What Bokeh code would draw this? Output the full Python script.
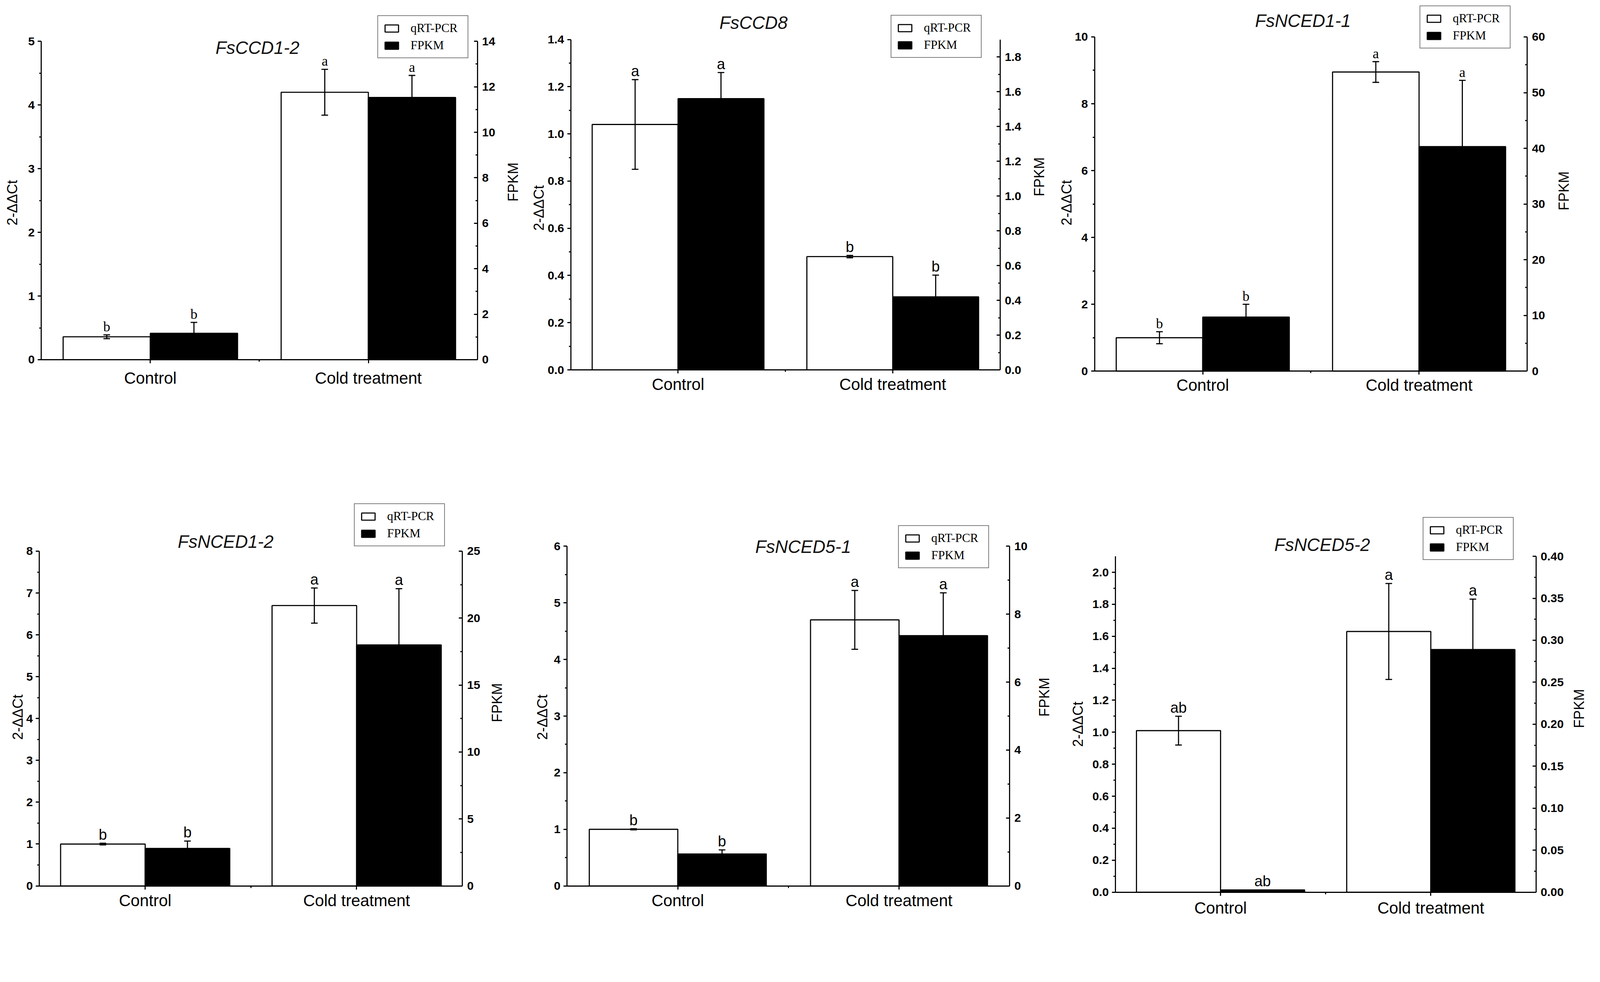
import math
from bokeh.plotting import figure
from bokeh.models import (Range1d, LinearAxis, FixedTicker, Whisker, TeeHead, Legend,
                          LegendItem, Label, ColumnDataSource, PrintfTickFormatter, Grid)
from bokeh.transform import dodge
from bokeh.layouts import column, row
from bokeh.embed import file_html
from bokeh.resources import INLINE
from bokeh.core.properties import value

# ---------------- data ----------------
groups = ["Control", "Cold treatment"]
genes = ["FsCCD1-2", "FsCCD8", "FsNCED1-1", "FsNCED1-2", "FsNCED5-1", "FsNCED5-2"]

ccd12_qrt = [0.36, 4.20]
ccd12_qrt_err = [0.03, 0.36]
ccd12_fpkm = [1.16, 11.53]
ccd12_fpkm_err = [0.48, 0.97]
ccd12_let_qrt = ["b", "a"]
ccd12_let_fpkm = ["b", "a"]
ccd12_left_ticks = [0, 1, 2, 3, 4, 5]
ccd12_right_ticks = [0, 2, 4, 6, 8, 10, 12, 14]

ccd8_qrt = [1.04, 0.48]
ccd8_qrt_err = [0.19, 0.005]
ccd8_fpkm = [1.56, 0.42]
ccd8_fpkm_err = [0.15, 0.125]
ccd8_let_qrt = ["a", "b"]
ccd8_let_fpkm = ["a", "b"]
ccd8_left_ticks = [0.0, 0.2, 0.4, 0.6, 0.8, 1.0, 1.2, 1.4]
ccd8_right_ticks = [0.0, 0.2, 0.4, 0.6, 0.8, 1.0, 1.2, 1.4, 1.6, 1.8]

nced11_qrt = [1.0, 8.95]
nced11_qrt_err = [0.18, 0.31]
nced11_fpkm = [9.7, 40.3]
nced11_fpkm_err = [2.3, 11.9]
nced11_let_qrt = ["b", "a"]
nced11_let_fpkm = ["b", "a"]
nced11_left_ticks = [0, 2, 4, 6, 8, 10]
nced11_right_ticks = [0, 10, 20, 30, 40, 50, 60]

nced12_qrt = [1.0, 6.70]
nced12_qrt_err = [0.02, 0.42]
nced12_fpkm = [2.8, 18.0]
nced12_fpkm_err = [0.55, 4.2]
nced12_let_qrt = ["b", "a"]
nced12_let_fpkm = ["b", "a"]
nced12_left_ticks = [0, 1, 2, 3, 4, 5, 6, 7, 8]
nced12_right_ticks = [0, 5, 10, 15, 20, 25]

nced51_qrt = [1.0, 4.70]
nced51_qrt_err = [0.01, 0.52]
nced51_fpkm = [0.94, 7.37]
nced51_fpkm_err = [0.12, 1.26]
nced51_let_qrt = ["b", "a"]
nced51_let_fpkm = ["b", "a"]
nced51_left_ticks = [0, 1, 2, 3, 4, 5, 6]
nced51_right_ticks = [0, 2, 4, 6, 8, 10]

nced52_qrt = [1.01, 1.63]
nced52_qrt_err = [0.09, 0.30]
nced52_fpkm = [0.0027, 0.289]
nced52_fpkm_err = [0.0, 0.06]
nced52_let_qrt = ["ab", "a"]
nced52_let_fpkm = ["ab", "a"]
nced52_left_ticks = [0.0, 0.2, 0.4, 0.6, 0.8, 1.0, 1.2, 1.4, 1.6, 1.8, 2.0]
nced52_right_ticks = [0.00, 0.05, 0.10, 0.15, 0.20, 0.25, 0.30, 0.35, 0.40]

panels_data = [
    (ccd12_qrt, ccd12_qrt_err, ccd12_fpkm, ccd12_fpkm_err, ccd12_let_qrt, ccd12_let_fpkm,
     ccd12_left_ticks, 5.0, ccd12_right_ticks, 14.0, "%d", "%d"),
    (ccd8_qrt, ccd8_qrt_err, ccd8_fpkm, ccd8_fpkm_err, ccd8_let_qrt, ccd8_let_fpkm,
     ccd8_left_ticks, 1.4, ccd8_right_ticks, 1.9, "%.1f", "%.1f"),
    (nced11_qrt, nced11_qrt_err, nced11_fpkm, nced11_fpkm_err, nced11_let_qrt, nced11_let_fpkm,
     nced11_left_ticks, 10.0, nced11_right_ticks, 60.0, "%d", "%d"),
    (nced12_qrt, nced12_qrt_err, nced12_fpkm, nced12_fpkm_err, nced12_let_qrt, nced12_let_fpkm,
     nced12_left_ticks, 8.0, nced12_right_ticks, 25.0, "%d", "%d"),
    (nced51_qrt, nced51_qrt_err, nced51_fpkm, nced51_fpkm_err, nced51_let_qrt, nced51_let_fpkm,
     nced51_left_ticks, 6.0, nced51_right_ticks, 10.0, "%d", "%d"),
    (nced52_qrt, nced52_qrt_err, nced52_fpkm, nced52_fpkm_err, nced52_let_qrt, nced52_let_fpkm,
     nced52_left_ticks, 2.1, nced52_right_ticks, 0.40, "%.1f", "%.2f"),
]

# ---------------- layout / style (target picture pixels, not data) ----------------
S = 4096.0 / 4319.0          # css px per picture px
M = 8.0 / S                  # body margin in picture px
# axes box (L, R, top of y-axis T, bottom B), legend box (left, bottom), title centre,
# category-label distance below axis, left / right axis-label centres, letter font
geo = [
    dict(L=119.5, R=1296.5, T=119.4, B=978.5, leg=(1027, 160), tit=(703, 137), dx=50.5,
         ll=(41, 555), rl=(1393, 499), lf="Liberation Serif", lfs=38),
    dict(L=1548.5, R=2707.5, T=114.5, B=1006.0, leg=(2413, 158), tit=(2042, 70), dx=39.0,
         ll=(1462, 569), rl=(2813, 485), lf="Liberation Sans", lfs=40),
    dict(L=2962.6, R=4130.5, T=107.5, B=1009.4, leg=(3840, 133.5), tit=(3525, 64.6), dx=37.6,
         ll=(2887.5, 555), rl=(4229, 523), lf="Liberation Serif", lfs=38),
    dict(L=114.4, R=1256.0, T=1495.2, B=2398.4, leg=(963.7, 1476.6), tit=(617, 1470.4), dx=40.0,
         ll=(55.4, 1943), rl=(1350, 1904), lf="Liberation Sans", lfs=40),
    dict(L=1538.9, R=2733.3, T=1482.0, B=2398.4, leg=(2432.6, 1536), tit=(2176, 1484), dx=40.0,
         ll=(1471.8, 1943), rl=(2827, 1889), lf="Liberation Sans", lfs=40),
    dict(L=3018.9, R=4154.0, T=1509.0, B=2415.4, leg=(3849, 1513), tit=(3577, 1478), dx=42.6,
         ll=(2917.5, 1962), rl=(4271, 1920), lf="Liberation Sans", lfs=40),
]
row_splits = [[M, 1430.0, 2860.0, 4309.0], [M, 1420.0, 2870.0, 4309.0]]
row_edges = [M, 1258.0, 2500.0]

SANS = "Liberation Sans"
FS_TICK = 32
FS_AXLAB = 38
FS_CAT = 44
FS_TITLE = 48
FS_LEG = 33
TICK_OUT = 9
LW = 3
LEG_DROP = 6


def c(v):
    return int(round(v * S))


def fpx(v):
    return "%.1fpx" % (v * S)


def minor_of(ticks):
    return [(a + b) / 2.0 for a, b in zip(ticks[:-1], ticks[1:])]


def style_axis(ax, side):
    ax.axis_line_width = LW * S
    ax.axis_line_color = "black"
    ax.major_tick_line_width = LW * S
    ax.minor_tick_line_width = LW * S
    ax.major_tick_line_color = "black"
    ax.minor_tick_line_color = "black"
    ax.major_label_text_font = SANS
    ax.major_label_text_color = "black"
    if side == "right":
        ax.major_tick_out = 0
        ax.major_tick_in = c(TICK_OUT)
        ax.minor_tick_out = 0
        ax.minor_tick_in = c(5)
        ax.major_label_standoff = c(13)
    else:
        ax.major_tick_out = c(TICK_OUT)
        ax.major_tick_in = 0
        ax.minor_tick_out = c(5)
        ax.minor_tick_in = 0
        ax.major_label_standoff = c(8)


def make_panel(gene, d, g, fx0, fy0, wcss, hcss):
    (qrt, qrt_err, fpkm, fpkm_err, let_q, let_f, lticks, lmax, rticks, rmax, lfmt, rfmt) = d
    xc = [i + 0.5 for i in range(len(groups))]
    src = ColumnDataSource(dict(
        xc=xc,
        qrt=qrt,
        qrt_lo=[v - e for v, e in zip(qrt, qrt_err)],
        qrt_up=[v + e for v, e in zip(qrt, qrt_err)],
        fpkm=fpkm,
        fpkm_up=[v + e for v, e in zip(fpkm, fpkm_err)],
        let_q=let_q,
        let_f=let_f,
    ))
    L, R, T, B = g["L"], g["R"], g["T"], g["B"]
    fw, fh = wcss / S, hcss / S
    nx = float(len(groups))
    kx = (R - L) / nx
    ky = (B - T) / lmax
    xs, xe = -(L - fx0) / kx, nx + (fx0 + fw - R) / kx
    ys, ye = -(fy0 + fh - B) / ky, lmax + (T - fy0) / ky
    rs = rmax / lmax

    def X(px):
        return (px - L) / kx

    def Y(py):
        return (B - py) / ky

    p = figure(x_range=Range1d(xs, xe), y_range=Range1d(ys, ye),
               width=wcss, height=hcss, title=None,
               x_axis_location=None, y_axis_location=None,
               min_border_left=0, min_border_right=0, min_border_top=0, min_border_bottom=0,
               output_backend="svg", toolbar_location=None, tools="")
    p.extra_y_ranges = {"fpkm": Range1d(ys * rs, ye * rs)}
    p.outline_line_color = None
    p.background_fill_color = "white"
    p.border_fill_color = "white"
    p.renderers = [r for r in p.renderers if not isinstance(r, Grid)]
    p.center = [r for r in p.center if not isinstance(r, Grid)]

    r_q = p.vbar(x=dodge("xc", -0.2), top="qrt", width=0.4, source=src,
                 fill_color="white", line_color="black", line_width=LW * S)
    r_f = p.vbar(x=dodge("xc", 0.2), top="fpkm", width=0.4, source=src,
                 y_range_name="fpkm", fill_color="black", line_color="black", line_width=LW * S)

    head = dict(size=c(18), line_width=LW * S, line_color="black")
    p.add_layout(Whisker(source=src, base=dodge("xc", -0.2), upper="qrt_up", lower="qrt_lo",
                         line_width=LW * S, line_color="black", level="annotation",
                         upper_head=TeeHead(**head), lower_head=TeeHead(**head)))
    p.add_layout(Whisker(source=src, base=dodge("xc", 0.2), upper="fpkm_up", lower="fpkm",
                         y_range_name="fpkm", line_width=LW * S, line_color="black", level="annotation",
                         upper_head=TeeHead(**head), lower_head=None))

    p.text(x=dodge("xc", -0.2), y="qrt_up", text="let_q", source=src,
           text_align="center", text_baseline="bottom", y_offset=-1,
           text_font=value(g["lf"]), text_font_size=fpx(g["lfs"]), text_color="black")
    p.text(x=dodge("xc", 0.2), y="fpkm_up", text="let_f", source=src,
           y_range_name="fpkm", text_align="center", text_baseline="bottom", y_offset=-1,
           text_font=value(g["lf"]), text_font_size=fpx(g["lfs"]), text_color="black")

    # x axis (at y = 0)
    xa = LinearAxis(fixed_location=0, bounds=(0, nx),
                    ticker=FixedTicker(ticks=xc, minor_ticks=minor_of(xc)),
                    major_label_overrides={x: gname for x, gname in zip(xc, groups)})
    style_axis(xa, "below")
    xa.major_label_text_font_size = fpx(FS_CAT)
    xa.major_label_standoff = max(0, c(g["dx"] - TICK_OUT - 0.575 * FS_CAT))
    xa.major_label_orientation = "horizontal"
    p.add_layout(xa, "below")

    # left axis (at x = 0)
    ly = LinearAxis(fixed_location=0, bounds=(0, lmax),
                    ticker=FixedTicker(ticks=lticks, minor_ticks=minor_of(lticks)),
                    formatter=PrintfTickFormatter(format=lfmt))
    style_axis(ly, "left")
    ly.major_label_text_font_size = fpx(FS_TICK)
    ly.major_label_text_font_style = "bold"
    p.add_layout(ly, "left")

    # right axis (at x = nx)
    ry = LinearAxis(fixed_location=nx, y_range_name="fpkm", bounds=(0, rmax),
                    ticker=FixedTicker(ticks=rticks, minor_ticks=minor_of(rticks)),
                    formatter=PrintfTickFormatter(format=rfmt))
    style_axis(ry, "right")
    ry.major_label_text_font_size = fpx(FS_TICK)
    ry.major_label_text_font_style = "bold"
    p.add_layout(ry, "right")

    # axis titles
    for txt, (px, py) in (("2-ΔΔCt", g["ll"]), ("FPKM", g["rl"])):
        p.add_layout(Label(x=X(px), y=Y(py), text=txt, angle=math.pi / 2,
                           text_align="center", text_baseline="middle",
                           text_font=SANS, text_font_size=fpx(FS_AXLAB), text_color="black"))

    # gene title
    p.add_layout(Label(x=X(g["tit"][0]), y=Y(g["tit"][1]), text=gene, text_align="center",
                       text_baseline="middle", text_font=SANS, text_font_style="italic",
                       text_font_size=fpx(FS_TITLE), text_color="#111111"))

    legend = Legend(items=[LegendItem(label=value("qRT-PCR"), renderers=[r_q]),
                           LegendItem(label=value("FPKM"), renderers=[r_f])],
                    location=(c(g["leg"][0] - fx0), c(fy0 + fh - g["leg"][1] - LEG_DROP)),
                    orientation="vertical",
                    border_line_color="black", border_line_width=LW * S,
                    background_fill_color="white", background_fill_alpha=1.0,
                    label_text_font="Liberation Serif", label_text_font_size=fpx(FS_LEG),
                    label_text_color="black",
                    glyph_width=c(45), glyph_height=c(24), label_standoff=c(28),
                    label_width=c(140), label_height=c(36), spacing=c(8), padding=c(14), margin=0)
    p.add_layout(legend)
    return p


figs = []
y_css = 8
for ri in range(2):
    splits = row_splits[ri]
    hcss = c(row_edges[ri + 1] - row_edges[ri])
    x_css = 8
    for ci in range(3):
        k = ri * 3 + ci
        wcss = c(splits[ci + 1] - splits[ci])
        figs.append(make_panel(genes[k], panels_data[k], geo[k], x_css / S, y_css / S, wcss, hcss))
        x_css += wcss
    y_css += hcss

page = column(row(figs[0], figs[1], figs[2]), row(figs[3], figs[4], figs[5]))

open("out.html", "w").write(file_html(page, INLINE))
